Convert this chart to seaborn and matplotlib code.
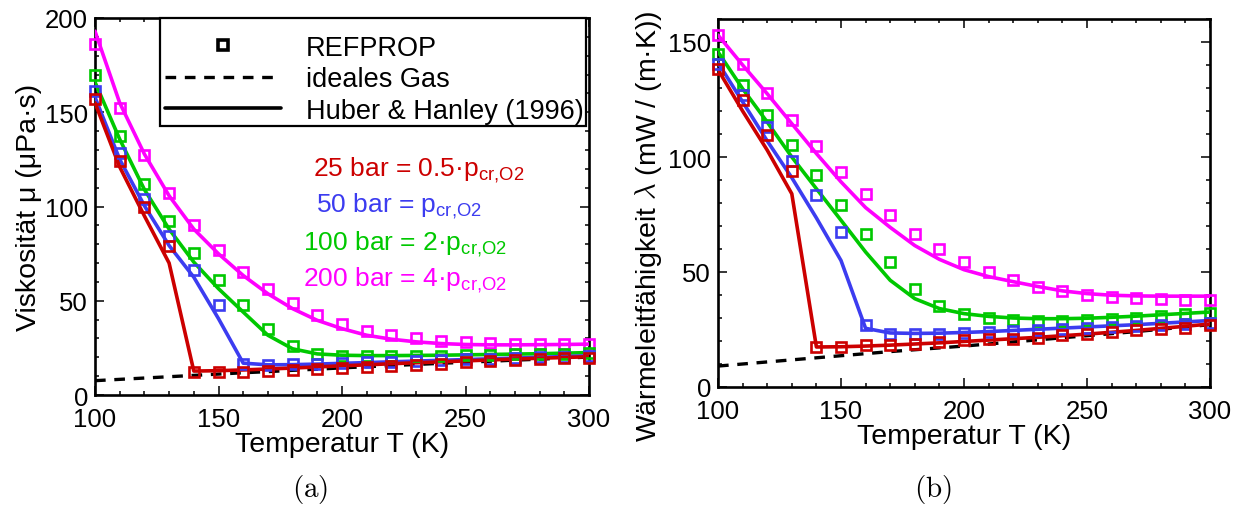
import numpy as np
import pandas as pd
import matplotlib
matplotlib.use("Agg")
import matplotlib.pyplot as plt
from matplotlib.lines import Line2D
from matplotlib.patches import Rectangle
from matplotlib.ticker import MultipleLocator
import seaborn as sns

# Temperatures (K)
temperature = [100, 110, 120, 130, 140, 150, 160, 170, 180, 190, 200,
               210, 220, 230, 240, 250, 260, 270, 280, 290, 300]

pressures = ["25 bar", "50 bar", "100 bar", "200 bar"]
colors = ["#cc0000", "#3c3cf0", "#00c800", "#ff00ff"]

# Viscosity (µPa·s): REFPROP points, Huber & Hanley model, ideal gas
visc_refprop_25 = [156.8, 124.2, 99.6, 78.9, 12.0, 12.0, 12.2, 12.6, 13.0, 13.6, 14.3,
                   14.9, 15.5, 16.1, 16.7, 17.3, 17.9, 18.4, 18.9, 19.4, 19.8]
visc_refprop_50 = [161.2, 128.6, 104.0, 84.2, 66.1, 47.6, 16.4, 15.9, 16.2, 16.5, 16.9,
                   17.3, 17.7, 18.1, 18.5, 18.9, 19.3, 19.6, 20.0, 20.3, 20.6]
visc_refprop_100 = [169.5, 137.4, 112.2, 92.2, 75.4, 61.1, 47.9, 35.2, 25.9, 22.0, 20.6,
                    20.6, 20.7, 20.8, 20.9, 21.1, 21.3, 21.5, 21.7, 21.9, 22.1]
visc_refprop_200 = [186.4, 152.4, 127.2, 107.0, 90.4, 77.0, 65.5, 56.4, 48.8, 42.3, 37.9,
                    34.0, 31.7, 30.0, 28.7, 28.2, 27.6, 27.3, 27.3, 27.3, 27.3]

visc_model_25 = [155.0, 121.0, 95.0, 70.0, 12.7, 12.9, 13.3, 13.8, 14.3, 14.9, 15.5,
                 16.0, 16.6, 17.1, 17.6, 18.1, 18.6, 19.1, 19.5, 19.9, 20.3]
visc_model_50 = [158.0, 125.0, 100.4, 79.3, 62.5, 40.5, 16.9, 16.0, 16.1, 16.4, 16.8,
                 17.2, 17.6, 18.0, 18.4, 18.8, 19.2, 19.6, 20.0, 20.4, 20.8]
visc_model_100 = [166.0, 135.7, 109.0, 88.0, 70.5, 56.4, 44.0, 31.7, 24.5, 21.8, 21.1,
                  20.9, 20.9, 21.0, 21.1, 21.3, 21.5, 21.7, 21.9, 22.2, 22.5]
visc_model_200 = [193.0, 155.0, 127.8, 105.7, 88.0, 74.9, 63.4, 53.7, 45.8, 39.6, 35.2,
                  31.7, 29.6, 28.2, 27.3, 26.8, 26.6, 26.6, 26.7, 26.8, 27.0]

visc_ideal = [7.6, 8.3, 9.0, 9.7, 10.4, 11.1, 11.8, 12.4, 13.1, 13.7, 14.4,
              15.0, 15.6, 16.2, 16.8, 17.4, 17.9, 18.5, 19.0, 19.6, 20.1]

# Thermal conductivity (mW/(m·K))
cond_refprop_25 = [138.4, 124.6, 109.4, 93.8, 17.4, 17.4, 18.1, 18.4, 18.8, 19.6, 20.3,
                   20.7, 21.0, 21.5, 22.5, 23.2, 24.0, 24.6, 25.1, 25.8, 26.8]
cond_refprop_50 = [140.6, 127.1, 113.0, 98.1, 83.3, 67.4, 27.1, 23.2, 23.2, 23.2, 23.5,
                   23.9, 24.3, 24.8, 25.2, 25.6, 26.0, 26.5, 27.0, 27.5, 28.0]
cond_refprop_100 = [144.9, 131.4, 118.1, 105.1, 92.0, 79.0, 66.7, 54.3, 42.5, 35.2, 31.9,
                    30.1, 29.1, 28.7, 28.7, 29.0, 29.7, 30.1, 30.9, 31.6, 32.3]
cond_refprop_200 = [152.9, 140.3, 128.0, 116.1, 104.8, 93.6, 83.8, 74.6, 66.7, 60.1, 54.3,
                    50.0, 46.4, 43.6, 41.6, 40.1, 39.1, 38.6, 38.1, 37.8, 37.7]

cond_model_25 = [138.0, 120.0, 103.0, 84.0, 17.4, 17.5, 17.8, 18.2, 18.7, 19.2, 19.8,
                 20.4, 21.0, 21.6, 22.3, 23.0, 23.8, 24.6, 25.5, 26.4, 27.4]
cond_model_50 = [141.0, 124.0, 107.0, 91.0, 73.5, 55.0, 25.5, 23.5, 23.3, 23.4, 23.7,
                 24.1, 24.6, 25.1, 25.6, 26.1, 26.6, 27.1, 27.7, 28.3, 28.9]
cond_model_100 = [145.7, 129.7, 115.2, 100.0, 86.2, 72.5, 58.7, 46.4, 38.4, 34.1, 31.9,
                  30.7, 30.0, 29.7, 29.7, 29.9, 30.3, 30.8, 31.4, 32.0, 32.6]
cond_model_200 = [153.0, 140.0, 127.5, 114.5, 101.5, 89.2, 78.0, 69.4, 61.5, 55.5, 51.0,
                  48.0, 45.8, 43.7, 41.8, 40.6, 39.9, 39.6, 39.5, 39.5, 39.5]

cond_ideal = [9.1, 10.0, 10.9, 11.8, 12.7, 13.6, 14.5, 15.4, 16.2, 17.0, 17.8,
              18.7, 19.6, 20.5, 21.4, 22.3, 23.2, 24.1, 25.1, 26.1, 27.1]

annotations = ["25 bar = 0.5·p$_\\mathrm{cr{,}O2}$",
               "50 bar = p$_\\mathrm{cr{,}O2}$",
               "100 bar = 2·p$_\\mathrm{cr{,}O2}$",
               "200 bar = 4·p$_\\mathrm{cr{,}O2}$"]
legend_labels = ["REFPROP", "ideales Gas", "Huber & Hanley (1996)"]


def long_frame(series):
    rows = []
    for p, vals in zip(pressures, series):
        for t, v in zip(temperature, vals):
            rows.append({"T": t, "value": v, "p": p})
    return pd.DataFrame(rows)


sns.set_style("ticks")
plt.rcParams["font.family"] = ["Liberation Sans", "DejaVu Sans"]
plt.rcParams["mathtext.fontset"] = "custom"
plt.rcParams["mathtext.rm"] = "Liberation Sans"
plt.rcParams["mathtext.it"] = "Liberation Sans:italic"
plt.rcParams["mathtext.bf"] = "Liberation Sans:bold"
for key in ["text.color", "axes.labelcolor", "xtick.color", "ytick.color",
            "xtick.labelcolor", "ytick.labelcolor"]:
    plt.rcParams[key] = "black"

W, H = 1241, 506
fig = plt.figure(figsize=(W / 100, H / 100), dpi=100)
ax1 = fig.add_axes([95 / W, 1 - 396 / H, 494 / W, 377 / H])
ax2 = fig.add_axes([718 / W, 1 - 388 / H, 492 / W, 368 / H])

palette = dict(zip(pressures, colors))
dash = (0, (3.2, 2.6))

panels = [
    (ax1, [visc_refprop_25, visc_refprop_50, visc_refprop_100, visc_refprop_200],
     [visc_model_25, visc_model_50, visc_model_100, visc_model_200], visc_ideal, 200),
    (ax2, [cond_refprop_25, cond_refprop_50, cond_refprop_100, cond_refprop_200],
     [cond_model_25, cond_model_50, cond_model_100, cond_model_200], cond_ideal, 160),
]

for ax, refprop, model, ideal, ymax in panels:
    sns.lineplot(x=temperature, y=ideal, ax=ax, color="black", lw=2.4,
                 linestyle=dash, zorder=2)
    df_model = long_frame(model)
    sns.lineplot(data=df_model, x="T", y="value", hue="p", palette=palette,
                 hue_order=pressures[::-1], ax=ax, lw=2.6, legend=False, zorder=3)
    for p, vals in zip(pressures[::-1], refprop[::-1]):
        sns.lineplot(x=temperature, y=vals, ax=ax, color=palette[p], marker="s",
                     markersize=7.4, markerfacecolor="none", markeredgecolor=palette[p],
                     markeredgewidth=1.9, linestyle="none", zorder=4, clip_on=False)
    ax.set_xlim(100, 300)
    ax.set_ylim(0, ymax)
    ax.xaxis.set_major_locator(MultipleLocator(50))
    ax.xaxis.set_minor_locator(MultipleLocator(10))
    ax.yaxis.set_major_locator(MultipleLocator(50))
    ax.yaxis.set_minor_locator(MultipleLocator(10))
    ax.tick_params(which="both", direction="in", top=True, right=True,
                   labelsize=18.5, width=1.1, color="black", labelcolor="black")
    ax.tick_params(which="major", length=6.5)
    ax.tick_params(axis="x", which="major", pad=8.5)
    ax.tick_params(axis="y", which="major", pad=5)
    ax.tick_params(which="minor", length=3.2)
    for s in ax.spines.values():
        s.set_linewidth(1.9)
        s.set_color("black")
    ax.set_xlabel("Temperatur T (K)", fontsize=20.5, labelpad=0.5)

ax1.set_ylabel("Viskosität μ (μPa·s)", fontsize=20.5)
ax1.yaxis.set_label_coords(-0.107, 0.5)
ax2.set_ylabel("Wärmeleitfähigkeit $\\lambda$ (mW / (m·K))", fontsize=20.5,
               math_fontfamily="cm")
ax2.yaxis.set_label_coords(-0.11, 0.44)

# pressure annotations
ann_pos = [(0.441, 0.584), (0.447, 0.488), (0.421, 0.387), (0.421, 0.292)]
for txt, (x, y), c in zip(annotations, ann_pos, colors):
    ax1.text(x, y, txt, transform=ax1.transAxes, color=c, fontsize=19,
             va="baseline", ha="left")

# legend box drawn as a plain rectangle, entries placed inside it
box = Rectangle((0.1316, 0.7135), 0.8624, 0.2865, transform=ax1.transAxes,
                facecolor="white", edgecolor="black", lw=1.6, clip_on=False, zorder=9)
ax1.add_patch(box)
handles = [
    Line2D([], [], color="black", marker="s", markersize=7.4, markerfacecolor="none",
           markeredgewidth=2.6, linestyle="none"),
    Line2D([], [], color="black", lw=2.4, linestyle=dash),
    Line2D([], [], color="black", lw=2.6),
]
leg = ax1.legend(handles, legend_labels, loc="upper left",
                 bbox_to_anchor=(0.1417, 0.955), fontsize=19.5, frameon=False,
                 handlelength=4.3, handletextpad=0.9, borderpad=0,
                 labelspacing=0.2, borderaxespad=0, numpoints=1)
leg.set_zorder(10)

fig.text(310 / W, 1 - 490 / H, r"$\mathrm{(a)}$", math_fontfamily="cm",
         ha="center", va="center", fontsize=21)
fig.text(933 / W, 1 - 490 / H, r"$\mathrm{(b)}$", math_fontfamily="cm",
         ha="center", va="center", fontsize=21)

fig.savefig("out.png", dpi=100)
